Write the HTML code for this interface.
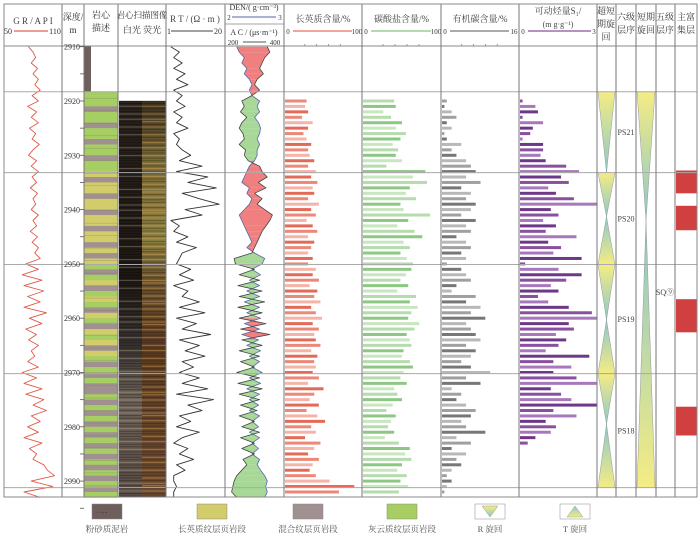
<!DOCTYPE html>
<html><head><meta charset="utf-8">
<style>
html,body{margin:0;padding:0;background:#fff;}
svg{display:block;font-family:"Liberation Serif","Noto Serif CJK SC",serif;}
</style></head>
<body>
<svg id="c" width="700" height="538" viewBox="0 0 700 538" xmlns="http://www.w3.org/2000/svg"></svg>
<script>
// ===== data =====
const curveDepths = [];
for (let d = 2910; d <= 2993; d++) curveDepths.push(d);
const grValues = [75,80,83,78,85,80,86,82,88,79, 86,74,84,78,86,76,83,79,87,80, 75,84,78,86,79,84,77,85,80,83, 78,86,80,84,77,85,79,86,82,88, 72,86,68,90,70,92,74,88,70,95, 76,90,72,84,75,86,78,82,74,86, 68,84,70,90,72,92,80,95,78,88, 74,86,70,90,76,84,80,92,96,104, 78,102,70,88];
const rtValues = [2,5,3,6,3,7,4,8,3,6, 4,7,3,6,4,8,3,5,4,6, 9,5,13,4,15,8,18,6,12,19, 7,13,2,5,3,8,4,11,6,5, 4,9,5,10,3,8,6,12,5,14, 4,11,6,16,5,12,7,14,6,10, 5,12,6,15,4,17,8,13,5,9, 4,12,6,3,8,5,10,4,7,3, 3,4,3,3];
const denValues = [2.15,2.2,2.3,2.25,2.35,2.3,2.4,2.45,2.4,2.45, 2.6,2.55,2.6,2.5,2.58,2.62,2.6,2.55,2.6,2.55, 2.55,2.5,2.4,2.35,2.3,2.25,2.4,2.35,2.45,2.4, 2.3,2.2,2.25,2.3,2.35,2.4,2.45,2.35,2.5,2.7, 2.65,2.45,2.62,2.4,2.6,2.35,2.6,2.3,2.6,2.35, 2.62,2.3,2.6,2.25,2.58,2.35,2.62,2.4,2.6,2.45, 2.65,2.4,2.62,2.35,2.6,2.4,2.58,2.4,2.6,2.45, 2.58,2.4,2.6,2.45,2.58,2.45,2.6,2.55,2.62,2.7, 2.75,2.72,2.75,2.7];
const acValues = [350,360,340,330,320,335,310,300,320,290, 250,260,245,270,250,240,255,260,240,265, 260,275,320,330,350,315,345,300,330,310, 340,370,360,345,330,320,310,300,290,220, 225,300,240,320,235,330,240,340,235,330, 240,345,245,360,250,330,240,320,245,300, 230,320,235,330,240,320,245,310,240,300, 250,320,245,300,250,300,255,270,250,230, 220,215,210,230];

const barDepths = [];
for (let d = 2920; d <= 2992; d++) barDepths.push(d);
const quartzValues = [28,26,30,22,36,30,24,28,34,30, 32,38,30,40,34,42,36,38,30,44, 34,40,28,36,42,30,38,34,30,36, 30,40,36,44,32,42,38,46,34,40, 48,36,44,38,40,46,34,42,38,40, 36,44,30,50,38,32,44,28,42,52, 34,40,26,46,38,30,44,36,32,40, 58,90,70];
const carbonateValues = [40,42,26,36,50,42,55,48,38,45, 42,50,30,80,64,82,60,55,68,48, 52,86,58,44,66,76,52,60,48,56, 64,62,55,48,58,44,68,60,70,62, 58,72,66,56,60,62,52,50,60,64, 52,48,56,40,44,50,38,30,42,36, 32,40,28,46,60,54,62,50,44,56, 48,58,46];
const tocValues = [1,0.5,2,3,1,2,0.5,1,4,2, 3,5,6,7,5,8,4,6,5,7, 6,4,7,5,6,3,5,6,4,5, 1,4,5,6,3,2,7,5,8,6, 9,5,6,7,8,5,7,6,4,6, 10,5,8,2,4,3,5,7,6,4, 5,9,3,6,2,5,3,4,2,1, 2,1,0.5];
const s1Values = [0.1,0.6,0.7,0.1,0.9,0.5,0.4,0.1,0.9,0.9, 0.8,1.0,1.8,2.3,1.6,1.9,1.1,1.4,2.1,3.0, 1.2,1.5,0.9,1.4,1.0,2.2,1.1,1.6,1.3,2.4, 0.2,1.5,2.4,1.8,1.2,1.5,0.7,1.1,1.9,2.8, 3.0,1.9,2.1,1.4,1.8,1.5,1.0,2.7,1.3,2.0, 1.3,2.2,3.0,1.2,1.6,2.0,3.0,1.3,2.2,1.0, 1.4,1.2,0.6,0.3,0,0,0,0,0,0, 0,0,0];

const lithoTop = 2918.3;
const lithoCodes = ['g','g','g','m','g','g','m','g','g','m', 'g','g','m','g','g','y','m','y','y','m', 'y','y','m','y','y','m','y','y','m','y', 'm','y','g','m','g','y','m','g','y','g', 'm','y','g','m','y','g','y','m','y','g', 'm','g','m','g','m','m','g','m','g','m', 'g','m','g','m','g','m','g','m','g','m', 'g','m','g','m','g'];

const depthTicks = [2910,2920,2930,2940,2950,2960,2970,2980,2990];
const cycleBounds = [2918.3, 2933.2, 2950.1, 2970.2, 2991.2];
const ps6Labels = ['PS21','PS20','PS19','PS18'];
const ps6Tips = [2933.2, 2941.3, 2960.3, 2979.5];
const shortTip = 2942;
const richTops = [2932.8, 2939.3, 2956.5, 2976.3];
const richBottoms = [2937.0, 2943.8, 2962.6, 2981.6];

// ===== helpers =====
const svg = document.getElementById('c');
const NS = 'http://www.w3.org/2000/svg';
function el(tag, attrs, parent) {
  const e = document.createElementNS(NS, tag);
  for (const k in attrs) e.setAttribute(k, attrs[k]);
  (parent || svg).appendChild(e);
  return e;
}
function txt(x, y, s, size, anchor, color) {
  const t = el('text', {x: x, y: y, 'font-size': size || 10, 'text-anchor': anchor || 'middle', fill: color || '#333'});
  t.textContent = s;
  return t;
}
const yOf = d => 101 + (d - 2920) * 5.43;
const PT = 46, PB = 497;
const cols = [4, 62, 84, 118, 166, 225, 284, 362, 441, 519, 597, 616, 636, 656, 675, 697];
const lin = (v, v0, v1, x0, x1) => x0 + (v - v0) / (v1 - v0) * (x1 - x0);

// defs
const defs = el('defs', {});
const gDown = el('linearGradient', {id: 'gd', x1: 0, y1: 0, x2: 0, y2: 1}, defs);
el('stop', {offset: '0', 'stop-color': '#f4ec84'}, gDown);
el('stop', {offset: '1', 'stop-color': '#8cc8c8'}, gDown);
const gUp = el('linearGradient', {id: 'gu', x1: 0, y1: 1, x2: 0, y2: 0}, defs);
el('stop', {offset: '0', 'stop-color': '#f4ec84'}, gUp);
el('stop', {offset: '1', 'stop-color': '#8cc8c8'}, gUp);
const gW = el('linearGradient', {id: 'gw', x1: 0, y1: 0, x2: 0, y2: 1}, defs);
[['0','#2a221c'],['0.45','#1e1814'],['0.62','#3a3430'],['0.75','#6e6258'],['1','#5a4c44']].forEach(s => el('stop', {offset: s[0], 'stop-color': s[1]}, gW));
const gF = el('linearGradient', {id: 'gf', x1: 0, y1: 0, x2: 0, y2: 1}, defs);
[['0','#3a3020'],['0.15','#7a6a38'],['0.35','#8a8040'],['0.45','#6a5430'],['0.6','#5a3c22'],['1','#6a4a30']].forEach(s => el('stop', {offset: s[0], 'stop-color': s[1]}, gF));

// ===== header =====
txt(33, 24, 'G R / A P I', 9, 'middle', '#444');
el('line', {x1: 14, y1: 31, x2: 48, y2: 31, stroke: '#e06050', 'stroke-width': 1.2,  });
txt(8, 34, '50', 8, 'middle'); txt(55, 34, '110', 8, 'middle');
txt(73, 20, '深度/', 9); txt(73, 33, 'm', 9);
txt(101, 18, '岩心', 9); txt(101, 31, '描述', 9);
txt(142, 18, '岩心扫描图像', 8.5); txt(142, 33, '白光 荧光', 9);
txt(195, 22, 'R T / (Ω · m )', 9, 'middle', '#444');
el('line', {x1: 171, y1: 31, x2: 213, y2: 31, stroke: '#444', 'stroke-width': 1});
txt(169, 34, '1', 8); txt(218, 34, '20', 8);
txt(254, 10, 'DEN/( g·cm⁻³)', 8);
el('line', {x1: 232, y1: 17, x2: 276, y2: 17, stroke: '#5566aa', 'stroke-width': 1});
txt(229, 20, '2', 7); txt(280, 20, '3', 7);
el('line', {x1: 225, y1: 24, x2: 284, y2: 24, stroke: '#888', 'stroke-width': 0.8});
txt(254, 35, 'A C / (μs·m⁻¹)', 8);
el('line', {x1: 243, y1: 42, x2: 266, y2: 42, stroke: '#555', 'stroke-width': 1});
txt(233, 45, '200', 7); txt(275, 45, '400', 7);
function barHeader(x0, x1, title, color, maxLabel, name) {
  const t = txt((x0 + x1) / 2, 22, title, 9, 'middle', '#444');
  
  el('line', {x1: x0 + 9, y1: 31, x2: x1 - 10, y2: 31, stroke: color, 'stroke-width': 1.2});
  txt(x0 + 4, 34, '0', 7); txt(x1 - 5, 34, maxLabel, 7);
  for (let i = 1; i < 5; i++) { const xx = x0 + 9 + i * (x1 - x0 - 19) / 5; el('line', {x1: xx, y1: 44, x2: xx, y2: 46, stroke: '#666', 'stroke-width': 0.6}); }
}
barHeader(284, 362, '长英质含量/%', '#e87060', '100', 'quartz-title');
barHeader(362, 441, '碳酸盐含量/%', '#88c080', '100', 'carbonate-title');
barHeader(441, 519, '有机碳含量/%', '#777', '16', 'toc-title');
txt(558, 14, '可动烃量S₁/', 9, 'middle', '#444');
txt(558, 27, '(m g·g⁻¹)', 8, 'middle', '#444');
el('line', {x1: 528, y1: 31, x2: 591, y2: 31, stroke: '#8a4fa0', 'stroke-width': 1.2});
txt(523, 34, '0', 7); txt(594, 34, '3', 7);
txt(606, 14, '超短', 9); txt(606, 27, '期旋', 9); txt(606, 40, '回', 9);
txt(626, 20, '六级', 9); txt(626, 33, '层序', 9);
txt(646, 20, '短期', 9); txt(646, 33, '旋回', 9);
txt(665, 20, '五级', 9); txt(665, 33, '层序', 9);
txt(686, 20, '主富', 9); txt(686, 33, '集层', 9);

// ===== lithology =====
const lithoColors = {g: '#a6ce62', y: '#d2cc6a', m: '#a09090'};
el('rect', {x: 84, y: yOf(2909.9), width: 7, height: yOf(lithoTop) - yOf(2909.9), fill: '#6e5e5c',  });
lithoCodes.forEach((c, i) => {
  const d0 = i === 0 ? lithoTop : 2918 + i;
  const r = el('rect', {x: 84, y: yOf(d0), width: 34, height: yOf(2918 + i + 1) - yOf(d0) + 0.3, fill: lithoColors[c]});
  
  
});
for (let d = 2919.5; d < 2993; d += 2.3) el('line', {x1: 84, y1: yOf(d), x2: 118, y2: yOf(d), stroke: 'rgba(120,120,100,0.4)', 'stroke-width': 0.7});

// core images
el('rect', {x: 119, y: yOf(2920), width: 23, height: PB - yOf(2920), fill: 'url(#gw)',  });
el('rect', {x: 142, y: yOf(2920), width: 24, height: PB - yOf(2920), fill: 'url(#gf)',  });
for (let y = yOf(2920); y < PB; y += 2.6) {
  const k = Math.floor(y) % 7;
  el('line', {x1: 119, y1: y, x2: 142, y2: y, stroke: k < 2 ? 'rgba(200,190,170,0.35)' : 'rgba(0,0,0,0.3)', 'stroke-width': 1});
  el('line', {x1: 142, y1: y, x2: 166, y2: y, stroke: k < 3 ? 'rgba(230,170,90,0.45)' : 'rgba(20,10,0,0.3)', 'stroke-width': 1});
}

// ===== curves =====
function polyline(vals, fx, color, name, w) {
  const pts = vals.map((v, i) => fx(v).toFixed(1) + ',' + yOf(curveDepths[i]).toFixed(1)).join(' ');
  el('polyline', {points: pts, fill: 'none', stroke: color, 'stroke-width': w || 1, 'stroke-linejoin': 'round',  });
}
polyline(grValues, v => lin(v, 50, 110, 6, 60), '#e05a48', 'gr-curve', 0.9);
polyline(rtValues, v => lin(v, 1, 20, 168, 222), '#333', 'rt-curve', 0.9);
const denX = v => lin(v, 2, 3, 229, 280);
const acX = v => lin(v, 200, 400, 229, 280);
for (let i = 0; i < curveDepths.length - 1; i++) {
  const a0 = acX(acValues[i]), a1 = acX(acValues[i + 1]), d0 = denX(denValues[i]), d1 = denX(denValues[i + 1]);
  const y0 = yOf(curveDepths[i]), y1 = yOf(curveDepths[i + 1]);
  const red = (a0 + a1) > (d0 + d1);
  const p = el('polygon', {points: `${d0},${y0} ${a0},${y0} ${a1},${y1} ${d1},${y1}`, fill: red ? '#f08080' : '#a8d898', stroke: 'none'});
  
  
}
polyline(denValues, denX, '#5566aa', 'den-curve', 0.8);
polyline(acValues, acX, '#444', 'ac-curve', 0.8);

// ===== bars =====
function bars(vals, x0, w, max, colors, name) {
  vals.forEach((v, i) => {
    if (v <= 0) return;
    const r = el('rect', {x: x0 + 1, y: yOf(barDepths[i]) - 1.5, width: v / max * w, height: 3, fill: colors[i % colors.length]});
    
    
  });
}
bars(quartzValues, 284, 77, 100, ['#ec8878', '#f4b4a8', '#e46a58'], 'quartz-bar');
bars(carbonateValues, 362, 78, 100, ['#b4dcac', '#8cc884', '#c8e6c0'], 'carbonate-bar');
bars(tocValues, 441, 77, 16, ['#a0a0a0', '#777', '#b8b8b8'], 'toc-bar');
bars(s1Values, 519, 77, 3, ['#8a50a0', '#a878bc', '#6e3888'], 's1-bar');

// ===== cycles =====
for (let i = 0; i < 4; i++) {
  const t = yOf(cycleBounds[i]), b = yOf(cycleBounds[i + 1]), m = yOf(ps6Tips[i]);
  const x0 = 598, x1 = 615, xc = 606.5;
  const down = el('polygon', {points: `${x0},${t} ${x1},${t} ${xc},${m}`, fill: 'url(#gd)', stroke: '#999', 'stroke-width': 0.5});
  
  
  if (i > 0) {
    const up = el('polygon', {points: `${xc},${m} ${x1},${b} ${x0},${b}`, fill: 'url(#gu)', stroke: '#999', 'stroke-width': 0.5});
    
    
  }
  const lab = txt(626, (t + b) / 2 + 3, ps6Labels[i], 8, 'middle', '#444');
  
}
el('polygon', {points: `637,${yOf(2918.3)} 655,${yOf(2918.3)} 646,${yOf(shortTip)}`, fill: 'url(#gd)', stroke: '#999', 'stroke-width': 0.5,  });
el('polygon', {points: `646,${yOf(shortTip)} 655,${yOf(2991.2)} 637,${yOf(2991.2)}`, fill: 'url(#gu)', stroke: '#999', 'stroke-width': 0.5,  });
txt(665, 295, 'SQ⑨', 8, 'middle', '#444');
richTops.forEach((t, i) => {
  const r = el('rect', {x: 676, y: yOf(t), width: 21, height: yOf(richBottoms[i]) - yOf(t), fill: '#d04040'});
  
  
});

// ===== grid & frame =====
cycleBounds.forEach(d => el('line', {x1: 4, y1: yOf(d), x2: 697, y2: yOf(d), stroke: '#aaa', 'stroke-width': 1,  }));
el('line', {x1: 4, y1: PT, x2: 697, y2: PT, stroke: '#888', 'stroke-width': 1});
cols.forEach(x => el('line', {x1: x, y1: 4, x2: x, y2: PB, stroke: '#777', 'stroke-width': 1}));
el('rect', {x: 4, y: 4, width: 693, height: PB - 4, fill: 'none', stroke: '#888', 'stroke-width': 1,  });
depthTicks.forEach(d => {
  const t = txt(64, yOf(d) + 3, String(d), 8, 'start', '#333');
  
  el('line', {x1: 80, y1: yOf(d), x2: 84, y2: yOf(d), stroke: '#555', 'stroke-width': 0.8});
  el('line', {x1: 80, y1: yOf(d + 5), x2: 84, y2: yOf(d + 5), stroke: '#555', 'stroke-width': 0.8});
});

// ===== legend =====
const legend = [
  [107, '#6e5e5c', '粉砂质泥岩', 'legend-silty-mudstone'],
  [212, '#d2cc6a', '长英质纹层页岩段', 'legend-felsic'],
  [308, '#a09090', '混合纹层页岩段', 'legend-mixed'],
  [402, '#a6ce62', '灰云质纹层页岩段', 'legend-dolomitic']
];
legend.forEach(l => {
  const r = el('rect', {x: l[0] - 15, y: 504, width: 30, height: 15, fill: l[1], stroke: '#888', 'stroke-width': 0.5});
  
  
  txt(l[0], 532, l[2], 8.5, 'middle', '#555');
});
txt(96, 514, '·· -  -', 6, 'start', '#222');
el('rect', {x: 475, y: 504, width: 30, height: 15, fill: '#fff', stroke: '#888', 'stroke-width': 0.5,  });
el('polygon', {points: '482,506 498,506 490,517', fill: 'url(#gd)', stroke: '#999', 'stroke-width': 0.5});
txt(490, 532, 'R 旋回', 8.5, 'middle', '#555');
el('rect', {x: 560, y: 504, width: 30, height: 15, fill: '#fff', stroke: '#888', 'stroke-width': 0.5,  });
el('polygon', {points: '575,506 583,517 567,517', fill: 'url(#gu)', stroke: '#999', 'stroke-width': 0.5});
txt(575, 532, 'T 旋回', 8.5, 'middle', '#555');
</script>
</body></html>
